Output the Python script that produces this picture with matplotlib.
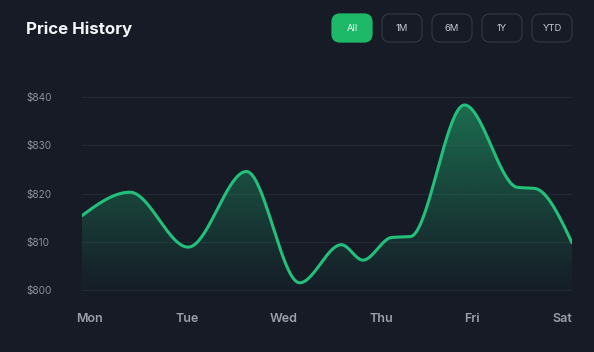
import numpy as np
import matplotlib
matplotlib.use("Agg")
import matplotlib.pyplot as plt
from matplotlib.patches import FancyBboxPatch
from matplotlib.path import Path
from matplotlib.patches import PathPatch

# ---------------- data ----------------
days = ["Mon", "Tue", "Wed", "Thu", "Fri", "Sat"]
# time positions (in days from Mon) of the curve's control points and their prices
t_points = [0.000, 0.492, 1.086, 1.680, 2.223, 2.648, 2.868, 3.160, 3.353, 3.903, 4.445, 4.618, 5.000]
prices = [815.4, 820.3, 808.9, 824.6, 801.5, 809.4, 806.2, 810.9, 811.1, 838.4, 821.3, 821.1, 809.8]
y_ticks = [800, 810, 820, 830, 840]
y_tick_labels = ["$800", "$810", "$820", "$830", "$840"]
ranges = ["All", "1M", "6M", "1Y", "YTD"]
title = "Price History"

# ---------------- style ----------------
BG = "#161b26"
GREEN = "#22c07a"
BTN_GREEN = "#1db868"
GRID = "#222835"
TICK = "#8b909b"
XLAB = "#9aa0ab"
W, H = 594, 352


def monotone_x(x, y, n=40):
    x = np.asarray(x, float)
    y = np.asarray(y, float)
    h = np.diff(x)
    s = np.diff(y) / h
    t = np.zeros_like(y)
    sgn = lambda v: np.where(v < 0, -1.0, 1.0)
    for i in range(1, len(x) - 1):
        p = (s[i - 1] * h[i] + s[i] * h[i - 1]) / (h[i - 1] + h[i])
        t[i] = (sgn(s[i - 1]) + sgn(s[i])) * min(abs(s[i - 1]), abs(s[i]), 0.5 * abs(p))
    t[0] = (3 * s[0] - t[1]) / 2
    t[-1] = (3 * s[-1] - t[-2]) / 2
    xs, ys = [], []
    for i in range(len(x) - 1):
        u = np.linspace(0, 1, n, endpoint=(i == len(x) - 2))
        h00 = 2 * u**3 - 3 * u**2 + 1
        h10 = u**3 - 2 * u**2 + u
        h01 = -2 * u**3 + 3 * u**2
        h11 = u**3 - u**2
        xs.append(x[i] + u * h[i])
        ys.append(h00 * y[i] + h10 * h[i] * t[i] + h01 * y[i + 1] + h11 * h[i] * t[i + 1])
    return np.concatenate(xs), np.concatenate(ys)


plt.rcParams["font.family"] = ["Inter", "DejaVu Sans"]
fig = plt.figure(figsize=(W / 100, H / 100), dpi=100, facecolor=BG)

# axes geometry (pixels)
x0_px, x1_px = 81.7, 572.0
top_px, bot_px = 85.0, 300.0
ax = fig.add_axes([x0_px / W, 1 - bot_px / H, (x1_px - x0_px) / W, (bot_px - top_px) / H])
ax.set_facecolor(BG)
ppd = (290.0 - 97.3) / 40.0
ymin = 800 - (bot_px - 290.0) / ppd
ymax = 840 + (97.3 - top_px) / ppd
ax.set_xlim(0, 5)
ax.set_ylim(ymin, ymax)

xs, ys = monotone_x(t_points, prices)

# gradient fill under the curve
grad = np.linspace(0.0, 1.0, 256)
rgba = np.zeros((256, 1, 4))
rgb = matplotlib.colors.to_rgb(GREEN)
rgba[..., 0], rgba[..., 1], rgba[..., 2] = rgb
rgba[:, 0, 3] = 0.55 * grad ** 1.1
im = ax.imshow(rgba, extent=[0, 5, ymin, ymax], origin="lower", aspect="auto", zorder=1,
               interpolation="bilinear")
verts = np.vstack([np.column_stack([xs, ys]),
                   [[xs[-1], ymin], [xs[0], ymin], [xs[0], ys[0]]]])
codes = [Path.MOVETO] + [Path.LINETO] * (len(verts) - 2) + [Path.CLOSEPOLY]
clip = PathPatch(Path(verts, codes), transform=ax.transData, facecolor="none", edgecolor="none")
ax.add_patch(clip)
im.set_clip_path(clip)

ax.plot(xs, ys, color=GREEN, lw=2.2, solid_capstyle="round", zorder=3)

# grid & ticks
ax.set_yticks(y_ticks)
ax.set_yticklabels(y_tick_labels)
ax.yaxis.grid(True, color=GRID, lw=0.8, zorder=0)
ax.set_axisbelow(True)
for sp in ax.spines.values():
    sp.set_visible(False)
ax.tick_params(axis="y", length=0, pad=(x0_px - 26) * 0.72, labelsize=7.2, labelcolor=TICK)
for lab in ax.get_yticklabels():
    lab.set_horizontalalignment("left")

# x labels laid out like the reference (space-between row)
label_centers_px = [89.4, 186.7, 284.0, 381.4, 472.3, 562.5]
ax.set_xticks([(p - x0_px) / (x1_px - x0_px) * 5 for p in label_centers_px])
ax.set_xticklabels(days)
ax.tick_params(axis="x", length=0, pad=9, labelsize=9, labelcolor=XLAB)
for lab in ax.get_xticklabels():
    lab.set_fontweight("semibold")

# title
fig.text(26 / W, 1 - 34.3 / H, title, color="#f2f4f7", fontsize=12.2, fontweight="bold",
         ha="left", va="baseline")

# range buttons
bx = [332, 382, 432, 482, 532]
for i, (lbl, x) in enumerate(zip(ranges, bx)):
    active = i == 0
    patch = FancyBboxPatch((x / W, 1 - 42 / H), 40 / W, 28 / H,
                           boxstyle="round,pad=0,rounding_size=0.0135",
                           transform=fig.transFigure,
                           facecolor=BTN_GREEN if active else BG,
                           edgecolor=BTN_GREEN if active else "#2f3542",
                           lw=0.9, mutation_aspect=W / H)
    fig.patches.append(patch)
    fig.text((x + 20) / W, 1 - 28.5 / H, lbl, color="#eafaf1" if active else "#c5c9d1",
             fontsize=6.8, ha="center", va="center")

fig.savefig("out.png", dpi=100, facecolor=BG)
